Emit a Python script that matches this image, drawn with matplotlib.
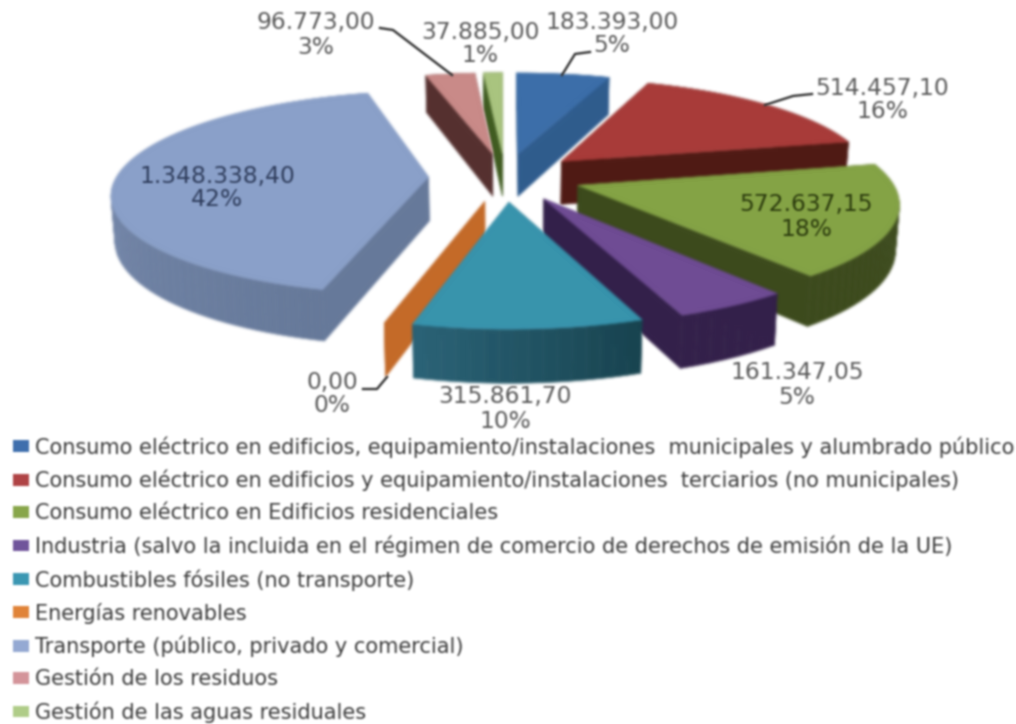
import matplotlib
matplotlib.use("Agg")
import matplotlib.pyplot as plt
import numpy as np
from matplotlib.collections import PolyCollection
from matplotlib.colors import to_rgb
from matplotlib.patches import Patch

categories = [
    "Consumo eléctrico en edificios, equipamiento/instalaciones  municipales y alumbrado público",
    "Consumo eléctrico en edificios y equipamiento/instalaciones  terciarios (no municipales)",
    "Consumo eléctrico en Edificios residenciales",
    "Industria (salvo la incluida en el régimen de comercio de derechos de emisión de la UE)",
    "Combustibles fósiles (no transporte)",
    "Energías renovables",
    "Transporte (público, privado y comercial)",
    "Gestión de los residuos",
    "Gestión de las aguas residuales",
]
values = [183393.00, 514457.10, 572637.15, 161347.05, 315861.70, 0.00, 1348338.40, 96773.00, 37885.00]
percents = ["5%", "16%", "18%", "5%", "10%", "0%", "42%", "3%", "1%"]

top_colors = ["#3c6ea9", "#a83b39", "#84a345", "#6f4c94", "#3894ae", "#c46a28", "#8aa0c9", "#c98a88", "#a9c47f"]
wall_start = ["#2f5c8e", "#4f1a14", "#3c4a1c", "#33204a", "#184450", "#c46a28", "#66799a", "#55302f", "#3f5b20"]
wall_end = ["#2f5c8e", "#4f1a14", "#3c4a1c", "#33204a", "#2a6276", "#c46a28", "#8497bc", "#55302f", "#3f5b20"]
legend_colors = ["#3f6fae", "#b04345", "#88a64a", "#70559b", "#3b97b3", "#e08338", "#94a9d3", "#d4949a", "#b0cc88"]

# where each value label sits (x, y of the first line, y of the second)
label_pos = [(612, 22, 46), (882, 88, 112), (806, 204, 229), (797, 373, 397), (505, 397, 421),
             (332, 382, 406), (217, 176, 199), (316, 23, 47), (480, 32, 55)]
label_colors = ["#5a5a5a", "#5a5a5a", "#2c3c0e", "#5a5a5a", "#5a5a5a", "#5a5a5a", "#2f3d5c", "#5a5a5a", "#5a5a5a"]
leaders = {
    0: [(562, 75), (575, 54), (590, 52)],
    1: [(765, 105), (793, 96), (812, 94)],
    5: [(387, 377), (377, 389), (363, 389)],
    7: [(452, 75), (393, 30), (380, 28)],
}

# projection of the tilted pie onto the page
CX, CY = 505, 177
A, B = 312, 99.4
P = 0.15
EXPLODE = 0.245
DEPTH = 44


def project(u, v, lower=False):
    w = 1 + P * v
    x = CX + A * u / w
    y = CY - B * v / w
    if lower:
        x = CX + (x - CX) * 0.99
        y = y + DEPTH / w
    return np.array([x, y]).T


def blur(image, dpi):
    pad = 4
    img = np.pad(image, ((pad, pad), (pad, pad), (0, 0)))
    alpha = img[..., 3:4]
    img = np.concatenate([img[..., :3] * alpha, alpha], axis=2)
    for axis in (0, 1):
        img = (np.roll(img, -2, axis) + 4 * np.roll(img, -1, axis) + 6 * img
               + 4 * np.roll(img, 1, axis) + np.roll(img, 2, axis)) / 16
    alpha = img[..., 3:4]
    rgb = np.where(alpha > 0, img[..., :3] / np.maximum(alpha, 1e-6), 0)
    return np.clip(np.concatenate([rgb, alpha], axis=2), 0, 1), -pad, -pad


def slice_polys(t0, t1, i):
    mid = (t0 + t1) / 2
    du, dv = EXPLODE * np.sin(mid), EXPLODE * np.cos(mid)
    n = max(2, int(np.degrees(t1 - t0) / 2))
    th = np.linspace(t0, t1, n)
    rim_u, rim_v = du + np.sin(th), dv + np.cos(th)
    rim_top = project(rim_u, rim_v)
    rim_low = project(rim_u, rim_v, lower=True)
    apex_top = project(np.array([du]), np.array([dv]))
    apex_low = project(np.array([du]), np.array([dv]), lower=True)

    walls = []
    c0, c1 = np.array(to_rgb(wall_start[i])), np.array(to_rgb(wall_end[i]))
    for k in range(n - 1):
        quad = np.array([rim_top[k], rim_top[k + 1], rim_low[k + 1], rim_low[k]])
        f = k / max(n - 2, 1)
        walls.append((quad, c0 + (c1 - c0) * f))
    for end, col in ((0, c0), (-1, c1)):
        quad = np.array([apex_top[0], rim_top[end], rim_low[end], apex_low[0]])
        walls.append((quad, col))
    walls.sort(key=lambda q: q[0][:, 1].mean())

    polys = [q for q, c in walls]
    cols = [c for q, c in walls]
    if t1 - t0 > 1e-6:
        polys.append(np.vstack([apex_top, rim_top]))
        cols.append(np.array(to_rgb(top_colors[i])))
    else:
        # empty slice shows only as a flat sheet
        cols = [to_rgb(top_colors[i])] * len(polys)
    return polys, cols


fig = plt.figure(figsize=(10.16, 7.24), dpi=100)
ax = fig.add_axes([0, 0, 1, 1])
ax.set_xlim(0, 1016)
ax.set_ylim(724, 0)
ax.axis("off")

edges = np.concatenate([[0], np.cumsum(values)]) / np.sum(values) * 2 * np.pi
draw_order = [8, 7, 0, 6, 1, 2, 5, 3, 4]
for i in draw_order:
    polys, cols = slice_polys(edges[i], edges[i + 1], i)
    pc = PolyCollection(polys, facecolors=cols, edgecolors=cols, linewidths=0.4, zorder=2)
    pc.set_agg_filter(blur)
    ax.add_collection(pc)

for i, pts in leaders.items():
    pts = np.array(pts)
    line, = ax.plot(pts[:, 0], pts[:, 1], color="#333333", lw=1.7, zorder=3)
    line.set_agg_filter(blur)

for i, (x, y1, y2) in enumerate(label_pos):
    txt = f"{values[i]:,.2f}".replace(",", "#").replace(".", ",").replace("#", ".")
    for s, y in ((txt, y1), (percents[i], y2)):
        t = ax.text(x, y, s, ha="center", va="center", fontsize=16.8, color=label_colors[i], zorder=4)
        t.set_agg_filter(blur)

handles = [Patch(facecolor=c, edgecolor="none") for c in legend_colors]
fs = 15.05
em = fs * 100 / 72
leg = ax.legend(handles, categories, loc="upper left", bbox_to_anchor=(13, 436),
                bbox_transform=ax.transData, frameon=False, fontsize=fs,
                borderpad=0, borderaxespad=0, handlelength=16 / em, handleheight=10 / em,
                handletextpad=6 / em, labelspacing=(34.0 - em * 1.046) / em, labelcolor="#3a3a3a")
for t in leg.get_texts():
    t.set_agg_filter(blur)
for p in leg.get_patches():
    p.set_agg_filter(blur)

fig.savefig("out.png", dpi=100, facecolor="white")
